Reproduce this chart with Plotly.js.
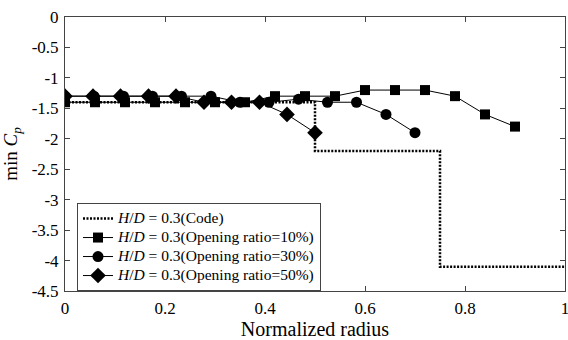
<!DOCTYPE html>
<html>
<head>
<meta charset="utf-8">
<script src="https://cdn.plot.ly/plotly-3.0.1.min.js"></script>
<style>html,body{margin:0;padding:0;background:#fff;}#chart{width:568px;height:340px;}</style>
</head>
<body>
<div id="chart"></div>
<script>
// Code (step line)
var codeX = [0, 0.5, 0.5, 0.75, 0.75, 1.0];
var codeY = [-1.4, -1.4, -2.2, -2.2, -4.1, -4.1];

// Opening ratio 10%
var sqX = [0, 0.06, 0.12, 0.18, 0.24, 0.30, 0.36, 0.42, 0.48, 0.54, 0.60, 0.66, 0.72, 0.78, 0.84, 0.90];
var sqY = [-1.4, -1.4, -1.4, -1.4, -1.4, -1.4, -1.4, -1.3, -1.3, -1.3, -1.2, -1.2, -1.2, -1.3, -1.6, -1.8];

// Opening ratio 30%
var ciX = [0, 0.058, 0.117, 0.175, 0.233, 0.292, 0.35, 0.408, 0.467, 0.525, 0.583, 0.642, 0.70];
var ciY = [-1.3, -1.3, -1.3, -1.3, -1.3, -1.3, -1.4, -1.4, -1.35, -1.4, -1.4, -1.6, -1.9];

// Opening ratio 50%
var diX = [0, 0.056, 0.111, 0.167, 0.222, 0.278, 0.333, 0.389, 0.444, 0.50];
var diY = [-1.3, -1.3, -1.3, -1.3, -1.3, -1.4, -1.4, -1.4, -1.6, -1.9];

var xTicks = [0, 0.2, 0.4, 0.6, 0.8, 1];
var xTickText = ['0', '0.2', '0.4', '0.6', '0.8', '1'];
var yTicks = [0, -0.5, -1, -1.5, -2, -2.5, -3, -3.5, -4, -4.5];
var yTickText = ['0', '-0.5', '-1', '-1.5', '-2', '-2.5', '-3', '-3.5', '-4', '-4.5'];

var seriesNames = [
  '<i>H</i>/<i>D</i> = 0.3(Code)',
  '<i>H</i>/<i>D</i> = 0.3(Opening ratio=10%)',
  '<i>H</i>/<i>D</i> = 0.3(Opening ratio=30%)',
  '<i>H</i>/<i>D</i> = 0.3(Opening ratio=50%)'
];
function big(s) { return '<span style="font-size:15.5px">' + s + '</span>'; }

var traces = [
  {x: codeX, y: codeY, name: big(seriesNames[0]), mode: 'lines', line: {color: '#000', width: 2.5, dash: '2px,1.5px'}},
  {x: sqX, y: sqY, name: big(seriesNames[1]), mode: 'lines+markers', line: {color: '#000', width: 1},
   marker: {symbol: 'square', size: 10, color: '#000'}},
  {x: ciX, y: ciY, name: big(seriesNames[2]), mode: 'lines+markers', line: {color: '#000', width: 1},
   marker: {symbol: 'circle', size: 11, color: '#000'}},
  {x: diX, y: diY, name: big(seriesNames[3]), mode: 'lines+markers', line: {color: '#000', width: 1},
   marker: {symbol: 'diamond', size: 12, color: '#000'}}
];

var fam = 'Liberation Serif, Times New Roman, serif';

var layout = {
  width: 568, height: 340,
  margin: {l: 65, r: 3, t: 17, b: 49},
  paper_bgcolor: '#fff', plot_bgcolor: '#fff',
  font: {family: fam, color: '#000', size: 14},
  showlegend: true,
  legend: {
    x: 0.024, y: 0.321, xanchor: 'left', yanchor: 'top',
    bgcolor: '#fff', bordercolor: '#444', borderwidth: 1,
    font: {family: fam, size: 12, color: '#000'},
    tracegroupgap: 0, itemwidth: 30
  },
  xaxis: {
    range: [0, 1], tickvals: xTicks, ticktext: xTickText,
    ticks: 'inside', ticklen: 5, tickcolor: '#444', mirror: 'ticks',
    showline: true, linecolor: '#444', linewidth: 1, showgrid: false, zeroline: false,
    ticklabeloverflow: 'allow', ticklabelstandoff: 2,
    tickfont: {family: fam, size: 17, color: '#000'},
    title: {text: 'Normalized radius', font: {family: fam, size: 20, color: '#000'}, standoff: 3}
  },
  yaxis: {
    range: [-4.5, 0], tickvals: yTicks, ticktext: yTickText,
    ticks: 'inside', ticklen: 5, tickcolor: '#444', mirror: 'ticks',
    showline: true, linecolor: '#444', linewidth: 1, showgrid: false, zeroline: false,
    ticklabelstandoff: 2,
    tickfont: {family: fam, size: 17, color: '#000'},
    title: {text: 'min <i>C</i><sub><i>p</i></sub>', font: {family: fam, size: 19, color: '#000'}, standoff: 9}
  }
};

Plotly.newPlot('chart', traces, layout, {displayModeBar: false, staticPlot: true});
</script>
</body>
</html>
